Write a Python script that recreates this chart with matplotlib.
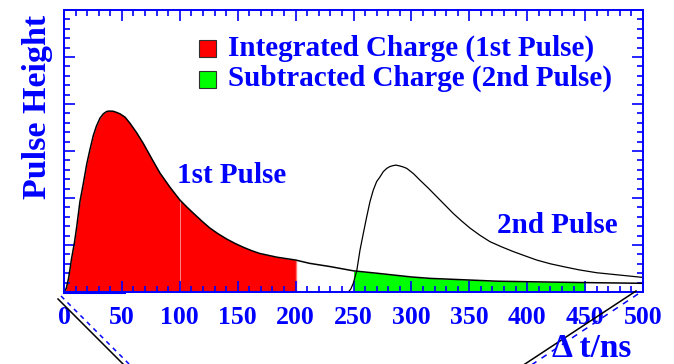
import numpy as np
import matplotlib
matplotlib.use("Agg")
import matplotlib.pyplot as plt
from matplotlib.lines import Line2D
from matplotlib.patches import Rectangle
from matplotlib.ticker import MultipleLocator

# ------------------------------------
# pulse shapes: time (ns) / height (a.u.)
# ------------------------------------
pulse1_t = [0, 2, 4, 6.6, 9, 11, 13.8, 16.7, 19.6, 22.5, 25.3, 28, 31.1, 33.9, 36.8,
            39.1, 42.6, 45.5, 48.4, 52.7, 57, 62.7, 68.5, 75.7, 82.9, 91.5, 100,
            106, 112, 119, 126, 133, 141, 148, 155, 162, 169, 184, 200, 212, 230,
            250, 270, 285, 300, 316, 345, 374, 410, 450, 500]
pulse1_h = [0, 0.08, 0.3, 0.72, 1.05, 1.39, 1.93, 2.31, 2.72, 3.04, 3.33, 3.53,
            3.70, 3.79, 3.84, 3.85, 3.845, 3.82, 3.79, 3.72, 3.59, 3.39, 3.16, 2.84,
            2.53, 2.23, 1.96, 1.81, 1.67, 1.51, 1.36, 1.24, 1.12, 1.03, 0.95, 0.88,
            0.82, 0.74, 0.68, 0.61, 0.54, 0.45, 0.40, 0.36, 0.32, 0.29, 0.26, 0.23,
            0.215, 0.20, 0.185]

pulse2_t = [240, 245.5, 247.6, 249.8, 252.8, 255.6, 258.5, 261.4, 264.2, 267.1, 270,
            272.9, 275.7, 278.7, 281.5, 284.4, 286.7, 290.2, 293, 296, 301.7, 307.4,
            314.6, 321.8, 329, 336.2, 343.4, 350.6, 359, 367.9, 378, 388, 398, 408.2,
            420, 431.2, 445, 460, 480, 500]
pulse2_h = [0, 0, 0.06, 0.185, 0.45, 0.89, 1.25, 1.60, 1.92, 2.17, 2.35, 2.45,
            2.56, 2.63, 2.67, 2.69, 2.70, 2.68, 2.66, 2.63, 2.52, 2.38, 2.21, 2.03,
            1.85, 1.67, 1.51, 1.36, 1.21, 1.07, 0.96, 0.86, 0.77, 0.68, 0.60, 0.54,
            0.47, 0.41, 0.36, 0.31]

gate1 = (0, 200)     # charge integration window of the 1st pulse
gate2 = (250, 450)   # window of the 2nd pulse

x_ticks = [0, 50, 100, 150, 200, 250, 300, 350, 400, 450, 500]
legend_labels = ["Integrated Charge (1st Pulse)", "Subtracted Charge (2nd Pulse)"]
legend_colors = ["#ff0000", "#00ff00"]

BLUE = "#0000ff"
W, H = 674, 364

plt.rcParams["font.family"] = "Liberation Serif"
plt.rcParams["font.weight"] = "bold"


def px(x, y):
    # pixel position -> figure fraction
    return x / W, 1 - y / H


fig = plt.figure(figsize=(W / 100, H / 100), dpi=100)
ax = fig.add_axes([64 / W, 1 - 292 / H, (643 - 64) / W, (292 - 10) / H])

t1 = np.array(pulse1_t)
h1 = np.array(pulse1_h)
t2 = np.array(pulse2_t)
h2 = np.array(pulse2_h)

# filled charge regions
m1 = (t1 >= gate1[0]) & (t1 <= gate1[1])
ax.fill_between(t1[m1], 0, h1[m1], color=legend_colors[0], lw=0, zorder=1)
m2 = (t1 >= gate2[0]) & (t1 <= gate2[1])
ax.fill_between(t1[m2], 0, h1[m2], color=legend_colors[1], lw=0, zorder=1)

# seams of the red area
for xs, c, w in [(100, "#ff9c9c", 0.6), (200, "#ff7070", 1.0)]:
    ax.plot([xs, xs], [0, h1[t1 == xs][0]], color=c, lw=w, zorder=1.5)

ax.plot(t1, h1, color="black", lw=1.1, zorder=2)
ax.plot(t2, h2, color="black", lw=0.9, zorder=2)

ax.set_xlim(0, 500)
ax.set_ylim(0, 6)
ax.set_xticks(x_ticks)
ax.xaxis.set_minor_locator(MultipleLocator(10))
ax.yaxis.set_major_locator(MultipleLocator(1))
ax.yaxis.set_minor_locator(MultipleLocator(0.2))

for s in ax.spines.values():
    s.set_color(BLUE)
    s.set_linewidth(1.4)

ax.tick_params(which="both", direction="in", top=True, right=True,
               color=BLUE, width=1.2, labelleft=False)
ax.tick_params(which="major", length=8)
ax.tick_params(which="minor", length=4)
ax.tick_params(axis="x", labelsize=18.5, labelcolor=BLUE, pad=10)

# heavier piece of the baseline near t=0
ax.plot([0, 52], [0, 0], color=BLUE, lw=2.2, clip_on=False, zorder=3)

# legend boxes and labels
box_y = [5.0, 4.34]
text_y = [5.02, 4.39]
for lab, col, by, ty in zip(legend_labels, legend_colors, box_y, text_y):
    ax.add_patch(Rectangle((116.6, by), 14.7, 0.36, facecolor=col,
                           edgecolor="#303030", lw=0.8, zorder=4))
    ax.text(141.6, ty, lab, color=BLUE, fontsize=21, va="baseline", zorder=4)

ax.text(97.6, 2.32, "1st Pulse", color=BLUE, fontsize=21, va="baseline")
ax.text(374, 1.255, "2nd Pulse", color=BLUE, fontsize=21, va="baseline")

fig.text(*px(38, 107), "Pulse Height", rotation=90, fontsize=24.5, color=BLUE,
         ha="center", va="center")
fig.text(*px(631, 357), "Δ t/ns", fontsize=24, color=BLUE,
         ha="right", va="baseline")

# slanted guide lines below the axis
guides = [
    ((58, 299), (127, 368), "black", "-"),
    ((61, 296), (131, 366), BLUE, (0, (3, 3))),
    ((523, 365.3), (636, 291), "black", "-"),
    ((527, 367.9), (638, 294), BLUE, (0, (4, 4))),
]
for p0, p1, c, ls in guides:
    x0, y0 = px(*p0)
    x1, y1 = px(*p1)
    fig.add_artist(Line2D([x0, x1], [y0, y1], transform=fig.transFigure,
                          color=c, ls=ls, lw=1.1))

fig.savefig("out.png", dpi=100)
